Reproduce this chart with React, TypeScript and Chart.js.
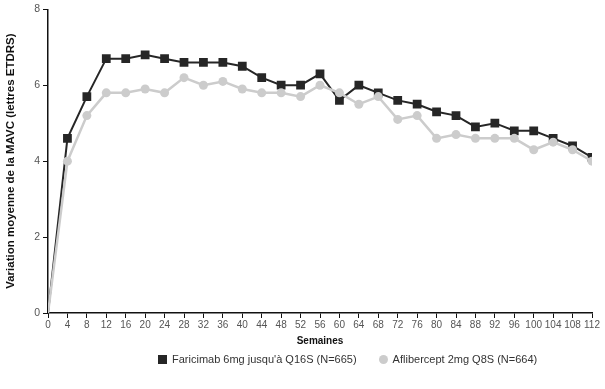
import React, { useEffect, useRef } from "react";
import { Chart, registerables } from "chart.js";

Chart.register(...registerables);

const weeks = [0, 4, 8, 12, 16, 20, 24, 28, 32, 36, 40, 44, 48, 52, 56, 60, 64, 68, 72, 76, 80, 84, 88, 92, 96, 100, 104, 108, 112];
const faricimab = [0, 4.6, 5.7, 6.7, 6.7, 6.8, 6.7, 6.6, 6.6, 6.6, 6.5, 6.2, 6.0, 6.0, 6.3, 5.6, 6.0, 5.8, 5.6, 5.5, 5.3, 5.2, 4.9, 5.0, 4.8, 4.8, 4.6, 4.4, 4.1];
const aflibercept = [0, 4.0, 5.2, 5.8, 5.8, 5.9, 5.8, 6.2, 6.0, 6.1, 5.9, 5.8, 5.8, 5.7, 6.0, 5.8, 5.5, 5.7, 5.1, 5.2, 4.6, 4.7, 4.6, 4.6, 4.6, 4.3, 4.5, 4.3, 4.0];
const seriesLabels = ["Faricimab 6mg jusqu'à Q16S (N=665)", "Aflibercept 2mg Q8S (N=664)"];
const yTitle = "Variation moyenne de la MAVC (lettres ETDRS)";
const xTitle = "Semaines";

const FONT = "'Liberation Sans', Arial, sans-serif";
const DARK = "#262626";
const LIGHT = "#cccccc";

export default function App() {
  const canvasRef = useRef<HTMLCanvasElement | null>(null);

  useEffect(() => {
    const canvas = canvasRef.current;
    if (!canvas) return;
    const toPts = (vals: number[]) => weeks.map((w, i) => ({ x: w, y: vals[i] }));
    const chart = new Chart(canvas, {
      type: "line",
      data: {
        datasets: [
          {
            label: seriesLabels[0],
            data: toPts(faricimab),
            borderColor: DARK,
            backgroundColor: DARK,
            borderWidth: 2,
            pointStyle: "rect",
            pointRadius: weeks.map((_, i) => (i === 0 ? 0 : 6.2)),
            pointBorderWidth: 0,
            pointBackgroundColor: DARK,
            order: 1,
          },
          {
            label: seriesLabels[1],
            data: toPts(aflibercept),
            borderColor: LIGHT,
            backgroundColor: LIGHT,
            borderWidth: 2.5,
            pointStyle: "circle",
            pointRadius: weeks.map((_, i) => (i === 0 ? 0 : 4.5)),
            pointBorderWidth: 0,
            pointBackgroundColor: LIGHT,
            order: 0,
          },
        ],
      },
      options: {
        responsive: false,
        animation: false,
        layout: { padding: { left: 0, top: 7, right: 13, bottom: 38 } },
        plugins: {
          legend: { display: false },
          tooltip: { enabled: false },
        },
        scales: {
          x: {
            type: "linear",
            min: 0,
            max: 112,
            afterFit: (s: any) => {
              s.height = 38;
            },
            border: { display: true, color: "#111", width: 1.5 },
            grid: { display: true, drawOnChartArea: false, drawTicks: true, tickLength: 5, color: "#111", lineWidth: 1 },
            ticks: {
              stepSize: 4,
              autoSkip: false,
              maxRotation: 0,
              padding: 1,
              color: "#555",
              font: { family: FONT, size: 10 },
            },
            title: {
              display: true,
              text: xTitle,
              color: "#111",
              font: { family: FONT, size: 10, weight: "bold" },
              padding: { top: 4, bottom: 4 },
            },
          },
          y: {
            min: 0,
            max: 8,
            afterFit: (s: any) => {
              s.width = 48;
            },
            border: { display: true, color: "#111", width: 1.5 },
            grid: { display: true, drawOnChartArea: false, drawTicks: true, tickLength: 5, color: "#111", lineWidth: 1 },
            ticks: {
              stepSize: 2,
              padding: 3,
              color: "#555",
              font: { family: FONT, size: 10.5 },
            },
            title: {
              display: true,
              text: yTitle,
              color: "#111",
              font: { family: FONT, size: 11.5, weight: "bold" },
              padding: { top: 4, bottom: 4 },
            },
          },
        },
      },
    });
    return () => chart.destroy();
  }, []);

  return (
    <div style={{ position: "absolute", left: 0, top: 0, width: 605, height: 389, background: "#fff" }}>
      <canvas ref={canvasRef} width={605} height={389} style={{ width: 605, height: 389, display: "block" }} />
      <div
        style={{
          position: "absolute",
          left: 158,
          top: 352,
          display: "flex",
          alignItems: "center",
          fontFamily: FONT,
          fontSize: 11,
          color: "#333",
          whiteSpace: "nowrap",
          lineHeight: "14px",
        }}
      >
        <span style={{ display: "inline-block", width: 9, height: 9, background: DARK, marginRight: 5 }} />
        <span>{seriesLabels[0]}</span>
        <span style={{ display: "inline-block", width: 9, height: 9, borderRadius: "50%", background: LIGHT, marginLeft: 22, marginRight: 5 }} />
        <span>{seriesLabels[1]}</span>
      </div>
    </div>
  );
}
